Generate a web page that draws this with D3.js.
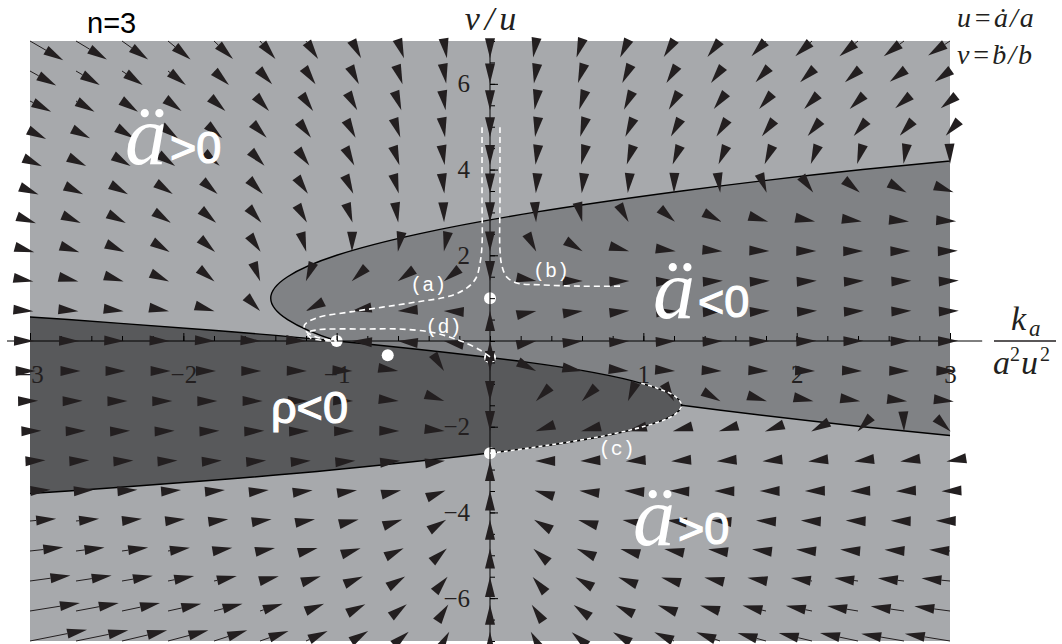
<!DOCTYPE html>
<html>
<head>
<meta charset="utf-8">
<script src="https://cdn.jsdelivr.net/npm/d3@7"></script>
<style>
  body{margin:0;background:#fff;}
  .canvas{width:1062px;height:644px;}
</style>
</head>
<body>
<div class="canvas"></div>
<script>
//phase plane of the n=3 model: x = k_a/(a^2 u^2), y = v/u

var gridX = [-3,-2.7,-2.4,-2.1,-1.8,-1.5,-1.2,-0.9,-0.6,-0.3,0,0.3,0.6,0.9,1.2,1.5,1.8,2.1,2.4,2.7,3];
var gridY = [7,6.3,5.6,4.9,4.2,3.5,2.8,2.1,1.4,0.7,0,-0.7,-1.4,-2.1,-2.8,-3.5,-4.2,-4.9,-5.6,-6.3,-7];

//flow along x at every grid point, one row per gridY value
var rateX = [
  [140,130,110,95,80,65,51,38,25,12,0,-12,-23,-33,-43,-53,-61,-70,-78,-85,-92],
  [110,100,87,75,63,51,40,29,19,9.2,0,-8.7,-17,-24,-32,-38,-44,-50,-55,-60,-64],
  [89,78,67,57,48,38,30,22,14,6.7,0,-6.2,-12,-17,-22,-26,-29,-33,-35,-37,-39],
  [68,59,50,42,35,28,21,15,9.6,4.5,0,-4,-7.5,-11,-13,-15,-17,-18,-18,-18,-18],
  [50,43,36,30,24,19,14,9.7,6,2.7,0,-2.2,-4,-5.2,-5.9,-6.1,-5.8,-5.1,-3.8,-2,0.34],
  [36,30,25,20,15,12,8.2,5.4,3.1,1.3,0,-0.8,-1.1,-0.88,-0.17,1,2.8,5,7.7,11,15],
  [25,20,16,12,8.9,6.1,3.9,2.2,0.94,0.22,0,0.29,1.1,2.4,4.2,6.5,9.3,13,16,21,26],
  [18,14,10,7,4.5,2.5,0.97,-0.025,-0.52,-0.51,0,1,2.5,4.6,7.1,10,14,18,22,27,33],
  [14,10,7,4.4,2.2,0.59,-0.54,-1.2,-1.3,-0.89,0,1.4,3.3,5.7,8.6,12,16,20,25,31,37],
  [14,9.9,6.8,4.2,2.1,0.46,-0.64,-1.2,-1.3,-0.92,0,1.4,3.3,5.8,8.7,12,16,21,25,31,37],
  [17,13,9.4,6.5,4,2.1,0.67,-0.25,-0.67,-0.59,0,1.1,2.7,4.8,7.4,11,14,18,23,28,34],
  [24,19,15,11,8.1,5.5,3.4,1.8,0.69,0.092,0,0.41,1.3,2.7,4.7,7.1,10,13,17,22,27],
  [34,28,23,18,14,11,7.5,4.9,2.8,1.1,0,-0.62,-0.74,-0.35,0.54,1.9,3.8,6.2,9.1,13,16],
  [48,41,34,28,23,18,13,9,5.5,2.5,0,-2,-3.5,-4.5,-5,-5,-4.5,-3.5,-1.9,0.076,2.6],
  [65,56,48,40,33,26,20,14,9,4.3,0,-3.7,-7,-9.7,-12,-14,-15,-16,-16,-16,-15],
  [86,75,65,55,46,37,28,21,13,6.3,0,-5.8,-11,-16,-20,-24,-27,-30,-33,-34,-36],
  [110,97,84,72,60,49,38,28,18,8.8,0,-8.3,-16,-23,-30,-36,-42,-47,-52,-56,-60],
  [140,120,110,92,77,63,49,36,24,12,0,-11,-22,-32,-41,-50,-59,-67,-75,-82,-88],
  [170,150,130,110,96,79,62,46,30,15,0,-14,-28,-41,-54,-66,-78,-89,-100,-110,-120],
  [210,180,160,140,120,96,76,56,37,18,0,-18,-35,-52,-68,-84,-99,-110,-130,-140,-150],
  [240,220,190,170,140,120,91,68,45,22,0,-22,-43,-63,-83,-100,-120,-140,-160,-180,-190]
];

//flow along y, same layout
var rateY = [
  [-290,-280,-280,-280,-270,-270,-270,-260,-260,-260,-260,-250,-250,-250,-240,-240,-230,-230,-230,-230,-220],
  [-220,-210,-210,-210,-210,-200,-200,-200,-200,-190,-190,-190,-180,-180,-180,-180,-170,-170,-170,-160,-160],
  [-160,-160,-160,-150,-150,-150,-150,-140,-140,-140,-140,-130,-130,-130,-130,-120,-120,-120,-120,-110,-110],
  [-120,-110,-110,-110,-110,-100,-100,-100,-97,-95,-93,-91,-88,-86,-84,-82,-79,-77,-75,-73,-71],
  [-79,-77,-76,-74,-72,-70,-68,-66,-64,-62,-60,-58,-56,-54,-52,-50,-48,-46,-44,-42,-41],
  [-52,-50,-49,-47,-46,-44,-42,-41,-39,-37,-36,-34,-32,-31,-29,-27,-26,-24,-22,-21,-19],
  [-32,-31,-29,-28,-27,-25,-24,-23,-21,-20,-19,-17,-16,-15,-13,-12,-10,-9.1,-7.8,-6.4,-5.1],
  [-18,-17,-16,-15,-14,-13,-12,-11,-9.9,-8.8,-7.7,-6.7,-5.6,-4.5,-3.5,-2.4,-1.4,-0.29,0.77,1.8,2.9],
  [-9.4,-8.6,-7.9,-7.1,-6.3,-5.6,-4.8,-4,-3.3,-2.5,-1.7,-0.95,-0.18,0.59,1.4,2.1,2.9,3.7,4.4,5.2,6],
  [-4.1,-3.6,-3.1,-2.7,-2.2,-1.7,-1.2,-0.78,-0.3,0.17,0.65,1.1,1.6,2.1,2.5,3,3.5,4,4.4,4.9,5.4],
  [-1.2,-1,-0.84,-0.66,-0.48,-0.3,-0.12,0.06,0.24,0.42,0.6,0.78,0.96,1.1,1.3,1.5,1.7,1.9,2,2.2,2.4],
  [0.52,0.4,0.29,0.18,0.062,-0.052,-0.17,-0.28,-0.39,-0.51,-0.62,-0.74,-0.85,-0.96,-1.1,-1.2,-1.3,-1.4,-1.5,-1.6,-1.8],
  [2.3,1.9,1.5,1.1,0.66,0.25,-0.15,-0.56,-0.97,-1.4,-1.8,-2.2,-2.6,-3,-3.4,-3.8,-4.2,-4.6,-5,-5.5,-5.9],
  [5.4,4.7,4,3.3,2.6,1.9,1.2,0.45,-0.25,-0.95,-1.7,-2.4,-3.1,-3.8,-4.5,-5.2,-5.9,-6.6,-7.3,-8,-8.7],
  [11,10,9,8,7,6,5,4,3,2,1,0.0072,-0.99,-2,-3,-4,-5,-6,-7,-8,-9],
  [20,19,18,16,15,14,13,11,10,8.7,7.4,6.1,4.8,3.6,2.3,0.98,-0.31,-1.6,-2.9,-4.2,-5.5],
  [35,33,32,30,28,27,25,24,22,20,19,17,16,14,13,11,9.3,7.8,6.2,4.6,3],
  [55,53,52,50,48,46,44,42,40,38,36,35,33,31,29,27,25,23,21,20,18],
  [83,81,79,77,75,72,70,68,66,64,62,59,57,55,53,51,49,46,44,42,40],
  [120,120,120,110,110,110,110,100,100,98,95,93,91,88,86,83,81,78,76,73,71],
  [170,160,160,160,160,150,150,150,140,140,140,140,130,130,130,130,120,120,120,110,110]
];

//boundary where the acceleration of a changes sign (x,y)
var accelZero = [[4.13,4.6],[2.43,4.0],[1.25,3.5],[0.286,3.0],[-0.464,2.5],[-1.0,2.0],[-1.32,1.5],
  [-1.43,1.0],[-1.32,0.5],[-1.0,0],[-0.464,-0.5],[0.286,-1.0],[1.25,-1.5],[2.43,-2.0],[3.82,-2.5]];
//boundary of the negative density region
var rhoZero = [[-3.59,0.7],[-2.75,0.5],[-1.81,0.25],[-1.0,0],[0.25,-0.5],[1.0,-1.0],[1.25,-1.5],
  [1.0,-2.0],[0.25,-2.5],[-1.0,-3.0],[-1.81,-3.25],[-2.75,-3.5],[-3.59,-3.7]];

//special trajectories (a)-(d)
var trajA = [[-0.052,4.99],[-0.052,3.29],[-0.052,2.24],[-0.065,1.82],[-0.091,1.47],[-0.15,1.24],[-0.26,1.05],
  [-0.48,0.91],[-0.70,0.79],[-0.91,0.68],[-1.13,0.54],[-1.21,0.37],[-1.20,0.23],[-1.13,0.09],[-1.0,0]];
var trajB = [[0.065,4.99],[0.065,3.29],[0.065,2.12],[0.078,1.75],[0.11,1.49],[0.18,1.35],[0.33,1.31],[0.59,1.28],[0.85,1.28]];
var trajC = [[0,-2.618],[0.25,-2.5],[0.76,-2.2],[1.09,-1.9],[1.21,-1.7],[1.25,-1.5],[1.21,-1.3],[1.09,-1.1],[0.98,-0.98]];
var trajD = [[0,-0.37],[-0.065,-0.21],[-0.176,-0.02],[-0.26,0.09],[-0.39,0.21],[-0.59,0.28],[-0.80,0.28],
  [-1.02,0.28],[-1.13,0.26],[-1.19,0.19],[-1.17,0.07],[-1.08,0.01],[-1.0,0]];
var trajLabels = [{t:'(a)',x:-0.52,y:1.16},{t:'(b)',x:0.28,y:1.49},{t:'(c)',x:0.71,y:-2.66},{t:'(d)',x:-0.42,y:0.19}];

var fixedPoints = [[-1,0],[-0.667,-0.333],[0,1],[0,-0.382],[0,-2.618]];

var xTickValues = [-3,-2,-1,1,2,3];
var yTickValues = [-6,-4,-2,2,4,6];

var lightGray = '#a7a9ac', midGray = '#808285', darkGray = '#58595b', ink = '#231f20';
var serif = "'Liberation Serif','Times New Roman',serif",
    sans = "'Liberation Sans',Arial,sans-serif",
    mono = "'Liberation Mono','Courier New',monospace";

var pageWidth = 1062, pageHeight = 644;
var arrowScale = 0.00155, headLength = 20, headHalf = 5;

var x = d3.scaleLinear().domain([-3,3]).range([30,950]);
var y = d3.scaleLinear().domain([-7,7]).range([641,41]);

var svg = d3.select('.canvas')
    .append('svg')
    .attr('width',pageWidth)
    .attr('height',pageHeight);

svg.append('clipPath').attr('id','plotClip')
    .append('rect')
    .attr('x',x(-3)).attr('y',y(7))
    .attr('width',x(3)-x(-3)).attr('height',y(-7)-y(7));

//shaded regions
var regions = svg.append('g').attr('clip-path','url(#plotClip)');
var curveLine = d3.line().x(function(d){return x(d[0]);}).y(function(d){return y(d[1]);}).curve(d3.curveNatural);

regions.append('rect')
    .attr('x',x(-3)).attr('y',y(7))
    .attr('width',x(3)-x(-3)).attr('height',y(-7)-y(7))
    .attr('fill',lightGray);
regions.append('path').attr('d',curveLine(accelZero)+'Z').attr('fill',midGray);
regions.append('path').attr('d',curveLine(accelZero)).attr('fill','none').attr('stroke','#000').attr('stroke-width',1.4);
regions.append('path').attr('d',curveLine(rhoZero)+'Z').attr('fill',darkGray);
regions.append('path').attr('d',curveLine(rhoZero)).attr('fill','none').attr('stroke','#000').attr('stroke-width',1.4);

//fixed points
svg.append('g').selectAll('circle')
    .data(fixedPoints)
    .enter().append('circle')
    .attr('cx',function(d){return x(d[0]);})
    .attr('cy',function(d){return y(d[1]);})
    .attr('r',6)
    .attr('fill','#fff');

//axes
svg.append('line')
    .attr('x1',x(-3.15)).attr('x2',x(3.21))
    .attr('y1',y(0)).attr('y2',y(0))
    .attr('stroke','#000').attr('stroke-width',1);
svg.append('line')
    .attr('x1',x(0)).attr('x2',x(0))
    .attr('y1',y(7)).attr('y2',y(-7))
    .attr('stroke','#000').attr('stroke-width',1);

function styleAxis(g){
    g.select('.domain').remove();
    g.selectAll('line').attr('stroke','#000');
    g.attr('font-family',null).attr('font-size',null);
    g.selectAll('text').style('font-family',serif).style('font-size','25px').attr('fill',ink);
}

svg.append('g')
    .attr('transform','translate(0,'+y(0)+')')
    .call(d3.axisBottom(x).tickValues(d3.range(-3,3.001,0.2)).tickSize(-5).tickFormat(''))
    .call(styleAxis);
svg.append('g')
    .attr('transform','translate(0,'+y(0)+')')
    .call(d3.axisBottom(x).tickValues(xTickValues).tickSize(-8).tickPadding(24).tickFormat(d3.format('d')))
    .call(styleAxis);
svg.append('g')
    .attr('transform','translate('+x(0)+',0)')
    .call(d3.axisLeft(y).tickValues(d3.range(-7,7.001,0.5)).tickSize(-5).tickFormat(''))
    .call(styleAxis);
svg.append('g')
    .attr('transform','translate('+x(0)+',0)')
    .call(d3.axisLeft(y).tickValues(yTickValues).tickSize(-8).tickPadding(20).tickFormat(d3.format('d')))
    .call(styleAxis);

//vector field: tail at grid point, head triangle of fixed size at the tip
var arrows = svg.append('g');
gridY.forEach(function(gy,j){
    gridX.forEach(function(gx,k){
        var x0 = x(gx), y0 = y(gy);
        var x1 = x(gx+arrowScale*rateX[j][k]), y1 = y(gy+arrowScale*rateY[j][k]);
        var len = Math.sqrt((x1-x0)*(x1-x0)+(y1-y0)*(y1-y0));
        if(len < 1e-6) return;
        var ux = (x1-x0)/len, uy = (y1-y0)/len;
        var bx = x1-headLength*ux, by = y1-headLength*uy;
        if(len > headLength){
            arrows.append('line')
                .attr('x1',x0).attr('y1',y0).attr('x2',bx).attr('y2',by)
                .attr('stroke',ink).attr('stroke-width',1);
        }
        arrows.append('path')
            .attr('d','M'+x1+','+y1+'L'+(bx-headHalf*uy)+','+(by+headHalf*ux)+'L'+(bx+headHalf*uy)+','+(by-headHalf*ux)+'Z')
            .attr('fill',ink);
    });
});

//dashed special trajectories
var trajLine = d3.line().x(function(d){return x(d[0]);}).y(function(d){return y(d[1]);}).curve(d3.curveCatmullRom);
[trajA,trajB,trajD].forEach(function(t){
    svg.append('path').attr('d',trajLine(t))
        .attr('fill','none').attr('stroke','#fff').attr('stroke-width',1.6)
        .attr('stroke-dasharray','6,4');
});
svg.append('path').attr('d',trajLine(trajC))
    .attr('fill','none').attr('stroke','#fff').attr('stroke-width',1.6)
    .attr('stroke-dasharray','4,3');

svg.append('g').selectAll('text')
    .data(trajLabels)
    .enter().append('text')
    .attr('x',function(d){return x(d.x);})
    .attr('y',function(d){return y(d.y);})
    .style('font-family',mono).style('font-size','20px')
    .attr('fill','#fff')
    .text(function(d){return d.t;});

//region labels
function regionLabel(px,py,sign){
    svg.append('text').attr('x',px).attr('y',py)
        .style('font-family',serif).style('font-style','italic').style('font-size','84px')
        .attr('fill','#fff').text('\u00e4');
    svg.append('text').attr('x',px+45).attr('y',py-2)
        .style('font-family',sans).style('font-size','45px')
        .attr('fill','#fff').attr('stroke','#fff').attr('stroke-width',1.2)
        .text(sign+'0');
}
regionLabel(125,165,'>');
regionLabel(653,319,'<');
regionLabel(633,546,'>');
svg.append('text').attr('x',271).attr('y',423)
    .style('font-family',sans).style('font-size','45px')
    .attr('fill','#fff').attr('stroke','#fff').attr('stroke-width',1.2)
    .text('\u03c1<0');

//titles
svg.append('text').attr('x',87).attr('y',33)
    .style('font-family',sans).style('font-size','29px').attr('fill','#000').text('n=3');
svg.append('text').attr('x',x(0)+3).attr('y',30)
    .attr('text-anchor','middle')
    .style('font-family',serif).style('font-style','italic').style('font-size','34px')
    .attr('letter-spacing',5).attr('fill',ink).text('v/u');
svg.append('text').attr('x',957).attr('y',27)
    .style('font-family',serif).style('font-style','italic').style('font-size','28px')
    .attr('letter-spacing',2).attr('fill',ink).text('u=\u0227/a');
svg.append('text').attr('x',957).attr('y',64)
    .style('font-family',serif).style('font-style','italic').style('font-size','28px')
    .attr('letter-spacing',2).attr('fill',ink).text('v=\u1e03/b');

//x axis label as a fraction
var frac = svg.append('g').attr('fill',ink);
function fracText(px,py,size,italic,t){
    frac.append('text').attr('x',px).attr('y',py)
        .style('font-family',serif).style('font-style',italic ? 'italic' : 'normal')
        .style('font-size',size+'px').text(t);
}
fracText(1011,330,34,true,'k');
fracText(1029,336,23,true,'a');
frac.append('line').attr('x1',994).attr('x2',1056).attr('y1',y(0)).attr('y2',y(0))
    .attr('stroke',ink).attr('stroke-width',1.6);
fracText(993,374,34,true,'a');
fracText(1010,361,20,false,'2');
fracText(1021,374,34,true,'u');
fracText(1040,361,20,false,'2');
</script>
</body>
</html>
